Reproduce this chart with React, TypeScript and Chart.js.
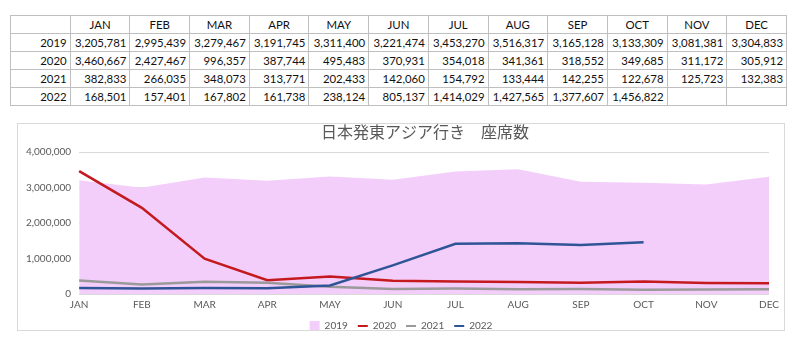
import React, { useEffect, useRef } from "react";
import { Chart, registerables } from "chart.js";

Chart.register(...registerables);

const months = ["JAN", "FEB", "MAR", "APR", "MAY", "JUN", "JUL", "AUG", "SEP", "OCT", "NOV", "DEC"];
const seriesNames = ["2019", "2020", "2021", "2022"];
const seats2019 = [3205781, 2995439, 3279467, 3191745, 3311400, 3221474, 3453270, 3516317, 3165128, 3133309, 3081381, 3304833];
const seats2020 = [3460667, 2427467, 996357, 387744, 495483, 370931, 354018, 341361, 318552, 349685, 311172, 305912];
const seats2021 = [382833, 266035, 348073, 313771, 202433, 142060, 154792, 133444, 142255, 122678, 125723, 132383];
const seats2022: (number | null)[] = [168501, 157401, 167802, 161738, 238124, 805137, 1414029, 1427565, 1377607, 1456822, null, null];
const chartTitle = "日本発東アジア行き　座席数";
const yMax = 4000000;
const yStep = 1000000;

const allSeries = [seats2019, seats2020, seats2021, seats2022];

const fmt = (v: number | null) => (v == null ? "" : v.toLocaleString("en-US"));

const cellBorder = "1px solid #bfbfbf";

function DataTable() {
  const tdBase: React.CSSProperties = {
    border: cellBorder,
    height: 17,
    padding: "0 3px",
    fontSize: 11.4,
    lineHeight: "17px",
    whiteSpace: "nowrap",
    overflow: "hidden",
  };
  return (
    <table
      style={{
        position: "absolute",
        left: 2,
        top: 7,
        width: 777,
        borderCollapse: "collapse",
        tableLayout: "fixed",
        fontFamily: "Lato, 'Open Sans', sans-serif",
        color: "#111",
      }}
    >
      <tbody>
        <tr>
          <td style={{ ...tdBase }}></td>
          {months.map((m) => (
            <td key={m} style={{ ...tdBase, textAlign: "center" }}>
              {m}
            </td>
          ))}
        </tr>
        {seriesNames.map((name, si) => (
          <tr key={name}>
            <td style={{ ...tdBase, textAlign: "right" }}>{name}</td>
            {allSeries[si].map((v, i) => (
              <td key={i} style={{ ...tdBase, textAlign: "right" }}>
                {fmt(v)}
              </td>
            ))}
          </tr>
        ))}
      </tbody>
    </table>
  );
}

function SeatChart() {
  const ref = useRef<HTMLCanvasElement | null>(null);
  useEffect(() => {
    if (!ref.current) return;
    const colors = ["rgb(243,206,250)", "#C41A1F", "#9a9a9a", "#2F5597"];
    const chart = new Chart(ref.current, {
      type: "line",
      data: {
        labels: months,
        datasets: [
          {
            label: seriesNames[0],
            data: seats2019,
            backgroundColor: colors[0],
            borderColor: colors[0],
            borderWidth: 0,
            fill: "origin",
            pointRadius: 0,
            tension: 0,
            order: 4,
          },
          {
            label: seriesNames[1],
            data: seats2020,
            borderColor: colors[1],
            backgroundColor: colors[1],
            borderWidth: 2.5,
            fill: false,
            pointRadius: 0,
            tension: 0,
            order: 3,
          },
          {
            label: seriesNames[2],
            data: seats2021,
            borderColor: colors[2],
            backgroundColor: colors[2],
            borderWidth: 2.5,
            fill: false,
            pointRadius: 0,
            tension: 0,
            order: 2,
          },
          {
            label: seriesNames[3],
            data: seats2022,
            borderColor: colors[3],
            backgroundColor: colors[3],
            borderWidth: 2.5,
            fill: false,
            pointRadius: 0,
            tension: 0,
            spanGaps: false,
            order: 1,
          },
        ],
      },
      options: {
        animation: false,
        responsive: false,
        maintainAspectRatio: false,
        layout: { padding: { top: 0, right: 0, left: 0, bottom: -11 } },
        plugins: {
          title: {
            display: true,
            text: "　　　" + chartTitle,
            color: "#595959",
            font: { family: "'Noto Sans CJK JP', sans-serif", size: 16, weight: "normal", lineHeight: 1 },
            padding: { top: 0, bottom: 12 },
          },
          legend: {
            position: "bottom",
            labels: {
              color: "#595959",
              font: { family: "Lato, sans-serif", size: 10 },
              usePointStyle: true,
              boxWidth: 10,
              boxHeight: 10,
              pointStyleWidth: 10,
              padding: 5,
              generateLabels: (c: any) =>
                c.data.datasets.map((ds: any, i: number) => ({
                  text: ds.label + (i < c.data.datasets.length - 1 ? "\u2002" : ""),
                  fillStyle: colors[i],
                  strokeStyle: colors[i],
                  lineWidth: i === 0 ? 0 : 2,
                  pointStyle: i === 0 ? "rect" : "line",
                  hidden: false,
                  datasetIndex: i,
                  fontColor: "#595959",
                })),
            },
          },
          tooltip: { enabled: false },
        },
        scales: {
          x: {
            offset: false,
            grid: { display: false, drawTicks: false },
            border: { display: false },
            ticks: {
              color: "#595959",
              font: { family: "Lato, sans-serif", size: 10 },
              maxRotation: 0,
              autoSkip: false,
              padding: 5,
            },
          },
          y: {
            min: 0,
            max: yMax,
            grid: { color: "#d9d9d9", drawTicks: false },
            border: { display: false },
            ticks: {
              stepSize: yStep,
              color: "#595959",
              font: { family: "Lato, sans-serif", size: 10 },
              padding: 8,
              callback: (v: any) => Number(v).toLocaleString("en-US"),
            },
          },
        },
      },
    });
    return () => chart.destroy();
  }, []);
  return (
    <div
      style={{
        position: "absolute",
        left: 9,
        top: 115,
        width: 768,
        height: 208,
        border: "1px solid #d9d9d9",
        boxSizing: "border-box",
        background: "#fff",
      }}
    >
      <canvas ref={ref} width={766} height={206} style={{ display: "block" }} />
    </div>
  );
}

export default function App() {
  return (
    <div style={{ position: "relative", width: 784, height: 325 }}>
      <DataTable />
      <SeatChart />
    </div>
  );
}
